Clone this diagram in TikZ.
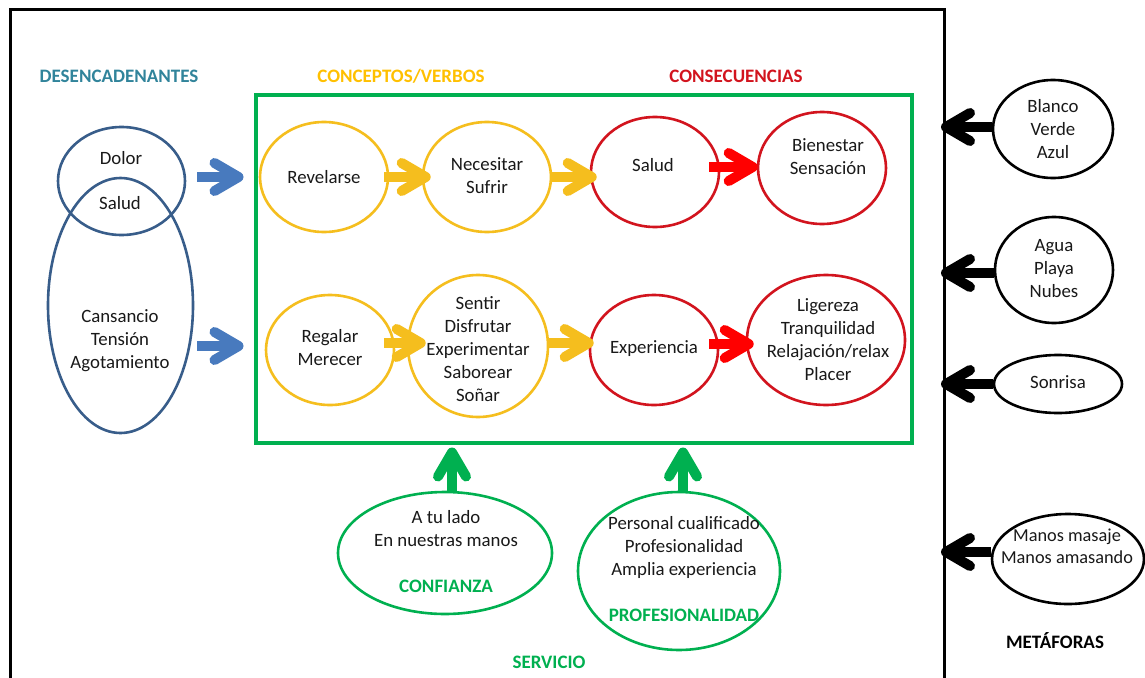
\documentclass[tikz,border=0pt]{standalone}
\usepackage{fontspec}
\setmainfont{Carlito}
\usetikzlibrary{shapes.geometric,arrows.meta,calc}
\definecolor{dblue}{RGB}{56,93,138}
\definecolor{ablue}{RGB}{72,122,190}
\definecolor{hteal}{RGB}{49,132,155}
\definecolor{ylw}{RGB}{245,190,30}
\definecolor{hylw}{RGB}{255,192,0}
\definecolor{rd}{RGB}{210,20,30}
\definecolor{ard}{RGB}{255,0,0}
\definecolor{grn}{RGB}{0,176,80}
\definecolor{txtc}{RGB}{25,25,25}
\newcommand{\bodyfont}{\fontsize{18.8}{23}\selectfont}
\newcommand{\headfont}{\bfseries\fontsize{19}{22}\selectfont}
\begin{document}
\begin{tikzpicture}[x=1pt,y=-1pt,
  ell/.style={ellipse, draw=#1, line width=2.6pt, inner sep=0pt},
  txt/.style={inner sep=0pt, align=center, font=\bodyfont, text=txtc},
  head/.style={inner sep=0pt, font=\headfont, text=#1},
  arr/.style={line width=10pt, draw=#1, -{Straight Barb[length=24pt,width=28pt,line width=10pt,round]}},
]
\fill[white] (0,0) rectangle (1145,677);
\useasboundingbox (0,0) rectangle (1145,677);
% frame
\coordinate (fr) at (944,10);
\draw[line width=3pt, line join=miter] (10,690) -- (10,10) -- (fr) -- (944,690);
% green box
\node[draw=grn, line width=4pt, minimum width=656pt, minimum height=348pt, inner sep=0pt] (box) at (583.5,268.5) {};
% headings
\node[head=hteal] (desT) at (119,76) {DESENCADENANTES};
\node[head=hylw] (concT) at (401,76) {CONCEPTOS/VERBOS};
\node[head=rd] (consT) at (736,76) {CONSECUENCIAS};
\node[head=grn] (servT) at (549,662) {SERVICIO};
\node[head=black] (metT) at (1055,641) {METÁFORAS};
% blue
\node[ell=dblue, minimum width=127pt, minimum height=108pt] (dolor) at (121.5,181) {};
\node[ell=dblue, minimum width=145pt, minimum height=255pt] (big) at (120.5,305.5) {};
\node[txt] (dolorT) at (121,158) {Dolor};
\node[txt] (saludbT) at (120,203) {Salud};
\node[txt] (bigT) at (120,341) {Cansancio\\Tensión\\Agotamiento};
% yellow
\node[ell=ylw, minimum width=128pt, minimum height=110pt] (rev) at (324,177) {};
\node[txt] (revT) at (rev) {Revelarse};
\node[ell=ylw, minimum width=128pt, minimum height=110pt] (nec) at (487,177) {};
\node[txt] (necT) at (487,176) {Necesitar\\Sufrir};
\node[ell=ylw, minimum width=128pt, minimum height=110pt] (reg) at (330,350) {};
\node[txt] (regT) at (330,348) {Regalar\\Merecer};
\node[ell=ylw, minimum width=140pt, minimum height=142pt] (sent) at (478,346) {};
\node[txt] (sentT) at (478,349) {Sentir\\Disfrutar\\Experimentar\\Saborear\\Soñar};
% red
\node[ell=rd, minimum width=128pt, minimum height=110pt] (salud) at (655,172) {};
\node[txt] (saludT) at (653,165) {Salud};
\node[ell=rd, minimum width=128pt, minimum height=112pt] (bien) at (822,168) {};
\node[txt] (bienT) at (828,157) {Bienestar\\Sensación};
\node[ell=rd, minimum width=128pt, minimum height=110pt] (exp) at (654,350) {};
\node[txt] (expT) at (654,349) {Experiencia};
\node[ell=rd, minimum width=158pt, minimum height=130pt] (lig) at (826,340) {};
\node[txt] (ligT) at (828,340) {Ligereza\\Tranquilidad\\Relajación/relax\\Placer};
% green
\node[ell=grn, minimum width=214pt, minimum height=122pt] (conf) at (445,553) {};
\node[txt] (confT) at (446,552) {A tu lado\\En nuestras manos\\[23pt]{\headfont\color{grn}CONFIANZA}};
\node[ell=grn, minimum width=202pt, minimum height=158pt] (prof) at (679,571) {};
\node[txt] (profT) at (684,569) {Personal cualificado\\Profesionalidad\\Amplia experiencia\\[23pt]{\headfont\color{grn}PROFESIONALIDAD}};
% black
\node[ell=black, minimum width=120pt, minimum height=98pt] (blanco) at (1053,129) {};
\node[txt] (blancoT) at (1053,129) {Blanco\\Verde\\Azul};
\node[ell=black, minimum width=118pt, minimum height=106pt] (agua) at (1054,270) {};
\node[txt] (aguaT) at (1054,269) {Agua\\Playa\\Nubes};
\node[ell=black, minimum width=128pt, minimum height=58pt] (sonr) at (1058,384) {};
\node[txt] (sonrT) at (1058,382) {Sonrisa};
\node[ell=black, minimum width=152pt, minimum height=90pt] (manos) at (1068,559) {};
\node[txt, font=\fontsize{18.3}{22}\selectfont] (manosT) at (1067,546) {Manos masaje\\Manos amasando};
% arrows: blue
\coordinate (bl1) at ([xshift=11pt,yshift=4pt]dolor.east);
\draw[arr=ablue, shorten >=10pt] (bl1) -- (bl1 -| box.west);
\coordinate (bl2) at ([xshift=3pt,yshift=-40.5pt]big.east);
\draw[arr=ablue, shorten >=10pt] (bl2) -- (bl2 -| box.west);
% yellow/red top
\coordinate (a1s) at ([xshift=-5pt]rev.east);
\draw[arr=ylw, shorten >=-9pt] (a1s) -- (a1s -| nec.west);
\draw[arr=ylw, shorten >=-7pt] (nec.east) -- (nec.east -| salud.west);
\coordinate (a3s) at ([xshift=-11pt,yshift=5pt]salud.east);
\draw[arr=ard, shorten >=-1pt] (a3s) -- (a3s -| bien.west);
% bottom row
\coordinate (b1s) at ([xshift=-11pt,yshift=7pt]reg.east);
\draw[arr=ylw, shorten >=-19pt] (b1s) -- (b1s -| sent.west);
\coordinate (b2s) at ([yshift=3pt]sent.east);
\draw[arr=ylw, shorten >=-5pt] (b2s) -- (b2s -| exp.west);
\coordinate (b3s) at ([xshift=-10pt,yshift=6pt]exp.east);
\draw[arr=ard, shorten >=-8pt] (b3s) -- (b3s -| lig.west);
% green up
\coordinate (g1) at ([xshift=7pt]conf.north);
\draw[arr=grn, shorten >=3pt] (g1) -- (g1 |- box.south);
\coordinate (g2) at ([xshift=4pt]prof.north);
\draw[arr=grn, shorten >=3pt] (g2) -- (g2 |- box.south);
% black
\coordinate (k1) at ([yshift=2pt]blanco.west);
\draw[arr=black, shorten >=-3pt] (k1) -- (k1 -| fr);
\coordinate (k2) at ([yshift=-3pt]agua.west);
\draw[arr=black, shorten >=-3pt] (k2) -- (k2 -| fr);
\draw[arr=black, shorten >=-3pt] (sonr.west) -- (sonr.west -| fr);
\coordinate (k4) at ([yshift=7pt]manos.west);
\draw[arr=black, shorten >=-3pt] (k4) -- (k4 -| fr);
\end{tikzpicture}
\end{document}
